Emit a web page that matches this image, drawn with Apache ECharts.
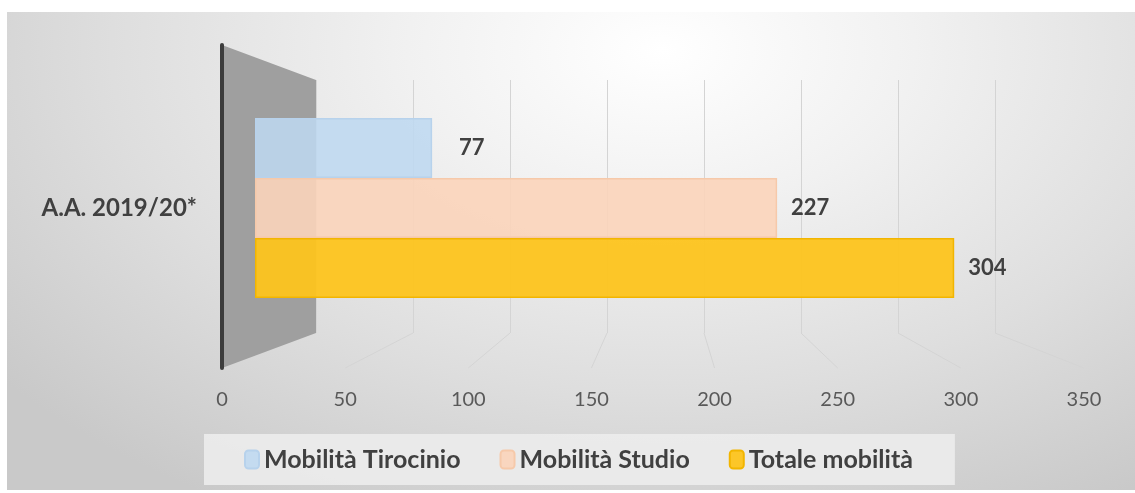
<!DOCTYPE html>
<html><head><meta charset="utf-8">
<script src="https://cdn.jsdelivr.net/npm/echarts@6/dist/echarts.min.js"></script>
<style>
html,body{margin:0;padding:0;background:#fff;}
#bg{position:absolute;left:7px;top:12px;width:1128px;height:478px;
background:radial-gradient(ellipse 75% 110% at 58% 8%, #ffffff 0%, #f1f1f1 30%, #dedede 65%, #c9c9c9 100%);}
#c{position:absolute;left:0;top:0;width:1135px;height:493px;}
</style></head>
<body><div id="bg"></div><div id="c"></div>
<script>
const categories = ['A.A. 2019/20*'];
const seriesNames = ['Mobilità Tirocinio', 'Mobilità Studio', 'Totale mobilità'];
const tirocinio = [77];
const studio = [227];
const totale = [304];
const tickValues = [0, 50, 100, 150, 200, 250, 300, 350];
const axisMin = 0, axisMax = 350, axisStep = 50;

const FONT = 'Lato';
const chart = echarts.init(document.getElementById('c'), null, {renderer:'canvas'});
const colors = ['rgba(190,216,240,0.88)', 'rgba(251,212,186,0.9)', 'rgba(253,196,30,0.95)'];
const borders = ['#b7d2ec', '#f6c9aa', '#f2b500'];
const vals = [tirocinio, studio, totale];

const option = {
  animation:false,
  backgroundColor:'transparent',
  grid:[
    {left:222, right:51, top:45, bottom:125},
    {left:255, right:75, top:118, height:180},
    {left:316, right:140, top:80, bottom:160}
  ],
  xAxis:[
    {gridIndex:0, type:'value', min:axisMin, max:axisMax, interval:axisStep,
     axisLine:{show:false}, axisTick:{show:false}, splitLine:{show:false},
     axisLabel:{margin:22, color:'#595959', fontFamily:FONT, fontSize:20}},
    {gridIndex:1, type:'value', min:axisMin, max:axisMax, show:false, splitLine:{show:false}},
    {gridIndex:2, type:'value', min:axisMin, max:axisMax, interval:axisStep,
     axisLine:{show:false}, axisTick:{show:false}, axisLabel:{show:false},
     splitLine:{show:true, lineStyle:{color:'#d4d4d4', width:1}}}
  ],
  yAxis:[
    {gridIndex:0, type:'category', data:categories, show:false},
    {gridIndex:1, type:'category', data:categories, inverse:true,
     axisLine:{show:false}, axisTick:{show:false},
     axisLabel:{margin:58, color:'#404040', fontFamily:FONT, fontWeight:'bold', fontSize:24}},
    {gridIndex:2, type:'value', show:false, splitLine:{show:false}}
  ],
  legend:{
    bottom:8, left:204,
    data:seriesNames,
    itemWidth:14, itemHeight:18, itemGap:39,
    padding:[13, 42, 13, 40],
    backgroundColor:'rgba(236,236,236,0.9)',
    textStyle:{color:'#404040', fontFamily:FONT, fontWeight:'bold', fontSize:25}
  },
  series: seriesNames.map((n,i)=>({
    name:n, type:'bar', xAxisIndex:1, yAxisIndex:1, data:vals[i],
    barGap:'0%', barCategoryGap:'0%',
    itemStyle:{color:colors[i], borderColor:borders[i], borderWidth:1.5},
    label:{show:true, position:'right', distance: i===0?27:14, color:'#404040',
      fontFamily:FONT, fontWeight:'bold', fontSize:22}
  }))
};
chart.setOption(option);

// decorative 3D wall and floor lines derived from the axes
const px = (axisIdx, v) => chart.convertToPixel({xAxisIndex:axisIdx}, v);
const g0 = chart.getModel().getComponent('grid',0).coordinateSystem.getRect();
const g2 = chart.getModel().getComponent('grid',2).coordinateSystem.getRect();
const graphics = [];
tickValues.forEach(v=>{
  if (v===0) return;
  graphics.push({type:'line', silent:true, z:1,
    shape:{x1:px(2,v), y1:g2.y+g2.height, x2:px(0,v), y2:g0.y+g0.height},
    style:{stroke:'#d4d4d4', lineWidth:1}});
});
const fx = px(0,0), bx = px(2,0);
graphics.push({type:'polygon', silent:true, z:2,
  shape:{points:[[fx,g0.y],[bx,g2.y],[bx,g2.y+g2.height],[fx,g0.y+g0.height]]},
  style:{fill:'#9f9f9f'}});
graphics.push({type:'line', silent:true, z:3,
  shape:{x1:fx, y1:g0.y, x2:fx, y2:g0.y+g0.height},
  style:{stroke:'#3c3c3c', lineWidth:4, lineCap:'round'}});
chart.setOption({graphic:graphics});
</script></body></html>
